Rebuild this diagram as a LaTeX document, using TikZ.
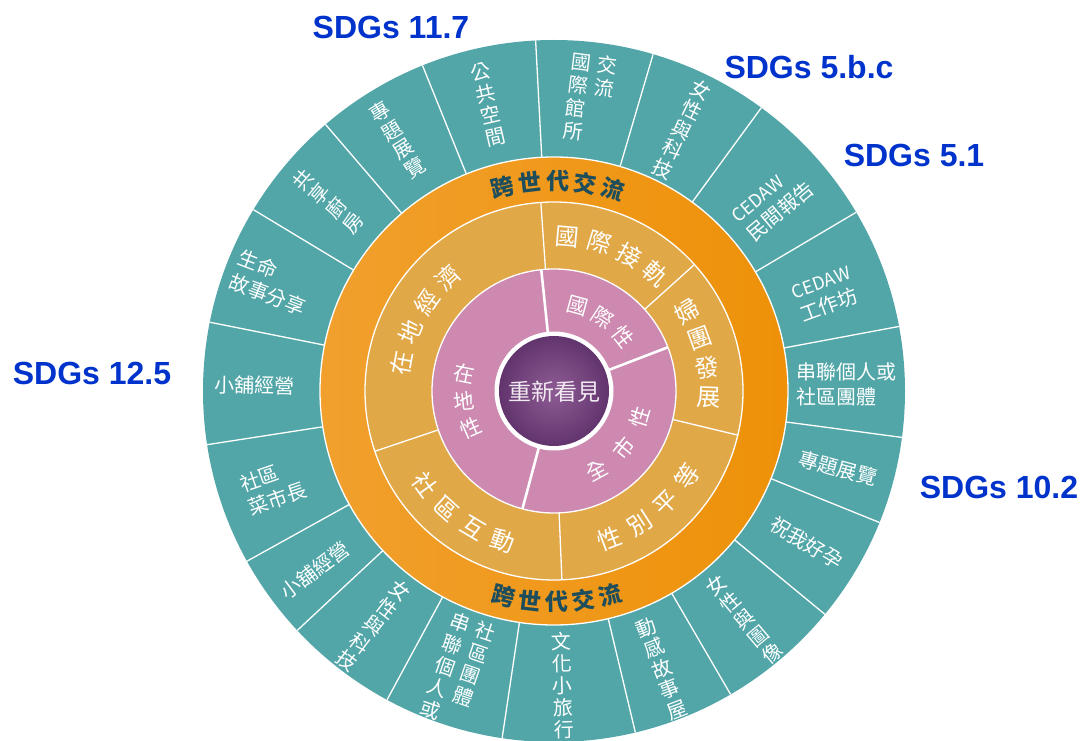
\documentclass[tikz,border=0pt]{standalone}
\usepackage{fontspec}
\setmainfont{Noto Sans CJK TC}
\newfontfamily\sdgfont{Liberation Sans}
\usetikzlibrary{calc}
\definecolor{tealc}{RGB}{82,166,168}
\definecolor{orangeL}{RGB}{241,160,46}
\definecolor{orangeR}{RGB}{238,145,8}
\definecolor{goldc}{RGB}{225,168,72}
\definecolor{pinkc}{RGB}{205,137,176}
\definecolor{purpleIn}{RGB}{142,92,148}
\definecolor{purpleOut}{RGB}{98,52,110}
\definecolor{sdgblue}{RGB}{0,51,204}
\definecolor{darktext}{RGB}{30,78,92}
\definecolor{ctrtext}{RGB}{242,234,242}
\tikzset{
  sdg/.style={font=\sdgfont\bfseries\fontsize{32}{36}\selectfont, text=sdgblue, inner sep=0pt},
  vstack/.style={text=white, inner sep=0pt, align=center, font=\fontsize{20}{22}\selectfont},
  hlab/.style={text=white, inner sep=0pt, align=left, font=\fontsize{20}{25}\selectfont},
  vtab/.style={text=white, inner sep=0pt, font=\fontsize{20}{21}\selectfont},
  goldch/.style={text=white, inner sep=0pt, font=\fontsize{24}{24}\selectfont},
  pinkch/.style={text=white, inner sep=0pt, font=\fontsize{21}{21}\selectfont},
  orch/.style={text=darktext, inner sep=0pt, font=\bfseries\fontsize{23}{23}\selectfont},
  sep/.style={white, line width=1.3pt},
  thicksep/.style={white, line width=2.6pt}
}
% name, radius, start angle, step, rotation offset, style, list
\newcommand\arcchars[7]{%
  \foreach \ch [count=\k] in {#7} {%
    \pgfmathsetmacro\ang{#3+(\k-1)*(#4)}%
    \pgfmathsetmacro\rot{\ang+#5}%
    \node[#6, rotate=\rot] (#1\k) at (\ang:#2) {\ch};
  }}
\begin{document}
\begin{tikzpicture}[x=1pt,y=1pt]
\useasboundingbox (0,0) rectangle (1085,740);
\clip (0,0) rectangle (1085,740);
\fill[white] (0,0) rectangle (1085,740);

% SDG labels
\node[sdg] (s117) at (391,713) {SDGs 11.7};
\node[sdg] (s5bc) at (809,673) {SDGs 5.b.c};
\node[sdg] (s51) at (914,585) {SDGs 5.1};
\node[sdg] (s125) at (92,367) {SDGs 12.5};
\node[sdg] (s102) at (999,253) {SDGs 10.2};

\begin{scope}[shift={(554,349)}]
% outer teal ring
\fill[tealc] (0,0) circle (351);
\foreach \a in {93,73.6,53.8,30.6,10.6,-7.6,-22,-39.5,-59.8,-76.6,-98.5,-118.4,-137,-151,-171.2,168.7,148.9,130.6,112}
  \draw[sep] (\a:233) -- (\a:351);
% orange ring
\shade[left color=orangeL, right color=orangeR] (0,0) circle (234);
\draw[sep] (0,0) circle (234);
% gold ring
\fill[goldc] (0,0) circle (189);
\draw[sep] (0,0) circle (189);
\foreach \a in {94,42,-13.5,-87.6,198.6}
  \draw[sep] (\a:122) -- (\a:189);
% pink ring
\fill[pinkc] (0,0) circle (122);
\draw[sep] (0,0) circle (122);
\foreach \a in {96,21,255}
  \draw[thicksep] (\a:58) -- (\a:122);
% centre
\fill[white] (0,0) circle (59.5);
\shade[inner color=purpleIn, outer color=purpleOut] (0,0) circle (55);
\node[text=ctrtext, inner sep=0pt, font=\fontsize{23}{23}\selectfont] (ctr) at (0,-1) {重新看見};

% teal labels
\node[vstack, rotate=13] (t1) at (103:294) {公\\共\\空\\間};
\node[vstack, rotate=32] (t2) at (121.9:296) {專\\題\\展\\覽};
\node[vstack, rotate=50] (t3) at (140:295) {共\\享\\廚\\房};
\node[hlab, rotate=-21] (t4) at (159:302) {生命\\故事分享};
\node[hlab, rotate=-1] (t5) at (178.9:299) {小舖經營};
\node[hlab, rotate=19] (t6) at (198.9:297) {社區\\菜市長};
\node[hlab, rotate=37] (t7) at (216.8:299) {小舖經營};
\node[vstack, rotate=-37.5] (t8) at (232.5:296) {女\\性\\與\\科\\技};
\node[vtab, rotate=-19] (t9) at (251:298) {\begin{tabular}{@{}c@{\hspace{7pt}}c@{}}串&社\\聯&區\\個&團\\人&體\\或&\end{tabular}};
\node[vstack, rotate=1.7] (t10) at (271.7:295) {文\\化\\小\\旅\\行};
\node[vstack, rotate=21] (t11) at (-68.8:298) {動\\感\\故\\事\\屋};
\node[vstack, rotate=40] (t12) at (-50.2:297) {女\\性\\與\\圖\\像};
\node[hlab, rotate=-31] (t13) at (-31:295) {祝我好孕};
\node[hlab, rotate=-15] (t14) at (-15.2:294) {專題展覽};
\node[hlab, rotate=0] (t15) at (1.2:293) {串聯個人或\\社區團體};
\node[hlab, rotate=20] (t16) at (19.5:288) {{\fontsize{18}{18}\selectfont CEDAW}\\工作坊};
\node[hlab, rotate=40] (t17) at (40.6:289) {{\fontsize{18}{18}\selectfont CEDAW}\\民間報告};
\node[vstack, rotate=-26] (t18) at (63.9:291) {女\\性\\與\\科\\技};
\node[vtab, rotate=-7] (t19) at (83:293) {\begin{tabular}{@{}c@{\hspace{6pt}}c@{}}國&交\\際&流\\館&\\所&\end{tabular}};

% orange ring text
\arcchars{otop}{210}{104.2}{-7.6}{-90}{orch}{跨,世,代,交,流}
\arcchars{obot}{211}{-103.8}{7.3}{90}{orch}{跨,世,代,交,流}

% gold ring text
\arcchars{ga}{155}{85}{-12}{-90}{goldch}{國,際,接,軌}
\arcchars{gb}{155}{31}{-11.1}{0}{goldch}{婦,團,發,展}
\arcchars{gc}{158}{-69.4}{12.2}{90}{goldch}{性,別,平,等}
\arcchars{gd}{159}{216}{11.7}{90}{goldch}{社,區,互,動}
\arcchars{ge}{155}{169.7}{-12.2}{-90}{goldch}{在,地,經,濟}

% pink ring text
\arcchars{pa}{88}{74.7}{-18.3}{-90}{pinkch}{國,際,性}
\arcchars{pb}{90}{-61.4}{22.3}{90}{pinkch}{全,市,性}
\arcchars{pc}{91}{168.8}{17.5}{-180}{pinkch}{在,地,性}
\end{scope}
\end{tikzpicture}
\end{document}
